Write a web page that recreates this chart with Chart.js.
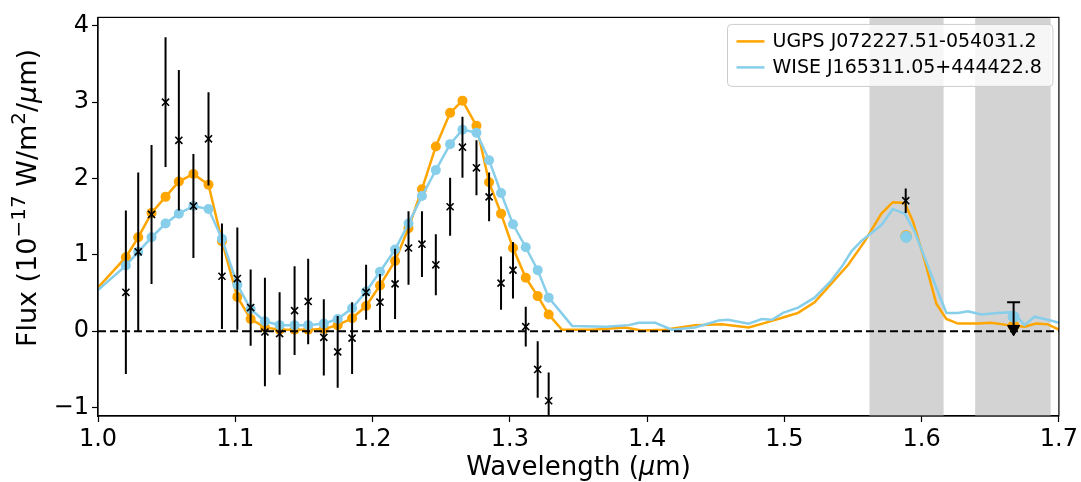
<!DOCTYPE html>
<html><head><meta charset="utf-8">
<script src="https://cdn.jsdelivr.net/npm/chart.js@4.4.0/dist/chart.umd.min.js"></script>
<style>html,body{margin:0;padding:0;background:#fff;}canvas{display:block;}</style>
</head><body>
<canvas id="c" width="1081" height="482"></canvas>
<script>
// ---------- data ----------
const obsWave = [1.0203,1.0293,1.0390,1.0492,1.0589,1.0695,1.0805,1.0903,1.1015,1.1112,1.1216,1.1323,1.1432,1.1531,1.1645,1.1746,1.1851,1.1953,1.2054,1.2164,1.2262,1.2360,1.2461,1.2565,1.2655,1.2757,1.2849,1.2936,1.3023,1.3116,1.3203,1.3283];
const obsFlux = [0.51,1.04,1.53,3.00,2.50,1.64,2.52,0.72,0.69,0.31,-0.01,-0.03,0.27,0.39,-0.08,-0.27,-0.09,0.51,0.38,0.62,1.09,1.14,0.87,1.63,2.41,2.14,1.76,0.63,0.80,0.06,-0.50,-0.91];
const obsErr  = [1.07,1.04,0.91,0.85,0.92,0.68,0.61,0.69,0.67,0.50,0.71,0.54,0.58,0.56,0.50,0.47,0.47,0.36,0.37,0.46,0.48,0.43,0.40,0.38,0.40,0.36,0.32,0.35,0.37,0.26,0.37,0.37];
const hWave = [1.5884];
const hFlux = [1.71];
const hErr  = [0.16];
const ulWave = [1.667];
const ulFlux = [0.03];
const ulTop  = [0.38];

const ugpsLabel = 'UGPS J072227.51-054031.2';
const wiseLabel = 'WISE J165311.05+444422.8';
const ugpsHeadWave = [1.0];
const ugpsHeadFlux = [0.57];
const wiseHeadWave = [1.0];
const wiseHeadFlux = [0.54];
const ugpsDots = [0.97,1.23,1.55,1.76,1.96,2.06,1.92,1.18,0.45,0.16,0.05,0.02,0.02,0.02,0.03,0.08,0.17,0.33,0.60,0.92,1.35,1.86,2.42,2.86,3.02,2.69,1.95,1.54,1.09,0.70,0.46,0.22];
const wiseDots = [0.86,1.04,1.23,1.41,1.54,1.64,1.60,1.21,0.61,0.29,0.13,0.08,0.08,0.08,0.10,0.16,0.30,0.52,0.78,1.07,1.41,1.77,2.11,2.45,2.64,2.60,2.24,1.81,1.40,1.10,0.80,0.44];
const ugpsTailWave = [1.338,1.360,1.384,1.396,1.413,1.435,1.4544,1.474,1.486,1.499,1.510,1.522,1.534,1.5465,1.5586,1.5707,1.579,1.5877,1.5938,1.6023,1.6107,1.618,1.6265,1.641,1.6507,1.6628,1.675,1.6834,1.692,1.700];
const ugpsTailFlux = [0.02,0.02,0.05,0.01,0.02,0.08,0.09,0.05,0.11,0.18,0.24,0.38,0.62,0.87,1.18,1.54,1.69,1.68,1.43,0.92,0.36,0.16,0.10,0.10,0.11,0.08,0.06,0.10,0.09,0.02];
const wiseTailWave = [1.3454,1.370,1.3866,1.394,1.406,1.418,1.435,1.452,1.459,1.474,1.4835,1.491,1.499,1.510,1.522,1.534,1.542,1.549,1.556,1.5622,1.5707,1.579,1.5877,1.595,1.6023,1.6107,1.618,1.6265,1.6337,1.6434,1.6555,1.6664,1.675,1.6822,1.694,1.700];
const wiseTailFlux = [0.07,0.06,0.08,0.11,0.11,0.02,0.05,0.14,0.15,0.10,0.16,0.15,0.24,0.31,0.44,0.66,0.85,1.05,1.18,1.27,1.39,1.60,1.54,1.30,0.96,0.57,0.24,0.24,0.26,0.22,0.24,0.25,0.08,0.19,0.14,0.11];
const photWave = [1.5887,1.667];
const ugpsPhot = [1.245,0.07];
const wisePhot = [1.235,0.19];
const zeroWave = [1.0,1.7];
const zeroFlux = [0,0];
const bandStart = [1.562,1.639];
const bandEnd   = [1.616,1.694];
const xTicks = [1.0,1.1,1.2,1.3,1.4,1.5,1.6,1.7];
const yTicks = [-1,0,1,2,3,4];

// ---------- build ----------
const pts = (xs, ys) => xs.map((v,i)=>({x:v,y:ys[i]}));
const ORANGE = '#FFA500', SKY = '#87CEEB';
const ugpsLine = pts(ugpsHeadWave,ugpsHeadFlux).concat(pts(obsWave,ugpsDots), pts(ugpsTailWave,ugpsTailFlux));
const wiseLine = pts(wiseHeadWave,wiseHeadFlux).concat(pts(obsWave,wiseDots), pts(wiseTailWave,wiseTailFlux));
const nHead = 1, nDots = obsWave.length;
const dotR = c => (c.dataIndex >= nHead && c.dataIndex < nHead+nDots) ? 5 : 0;
const FONT = 'DejaVu Sans';

function drawRuns(ctx, runs, size, supScale){
  const fontOf = r => (r[1]==='i' ? 'italic ' : '') + (r[1]==='s' ? size*supScale : size) + 'px "' + FONT + '"';
  let total = 0;
  runs.forEach(r=>{ ctx.font = fontOf(r); total += ctx.measureText(r[0]).width; });
  let x = -total/2;
  ctx.textBaseline = 'alphabetic'; ctx.textAlign = 'left'; ctx.fillStyle = '#000';
  runs.forEach(r=>{
    ctx.font = fontOf(r);
    ctx.fillText(r[0], x, r[1]==='s' ? -size*0.42 : 0);
    x += ctx.measureText(r[0]).width;
  });
}

const custom = {
  id:'custom',
  beforeDatasetsDraw(chart){
    const {ctx, chartArea:a, scales:{x}} = chart;
    ctx.save();
    ctx.fillStyle = '#d3d3d3';
    bandStart.forEach((s,i)=>{
      const x0 = x.getPixelForValue(s), x1 = x.getPixelForValue(bandEnd[i]);
      ctx.fillRect(x0, a.top, x1-x0, a.bottom-a.top);
    });
    ctx.restore();
  },
  afterDatasetsDraw(chart){
    const {ctx, chartArea:a, scales:{x,y}} = chart;
    ctx.save();
    ctx.beginPath(); ctx.rect(a.left,a.top,a.right-a.left,a.bottom-a.top); ctx.clip();
    ctx.strokeStyle = '#000'; ctx.lineWidth = 2;
    const bar = (w,f,e)=>{
      const px = x.getPixelForValue(w);
      ctx.beginPath();
      ctx.moveTo(px, y.getPixelForValue(f-e));
      ctx.lineTo(px, y.getPixelForValue(f+e));
      ctx.stroke();
    };
    obsWave.forEach((w,i)=>bar(w,obsFlux[i],obsErr[i]));
    hWave.forEach((w,i)=>bar(w,hFlux[i],hErr[i]));
    ulWave.forEach((w,i)=>{
      const px = x.getPixelForValue(w);
      const py0 = y.getPixelForValue(ulFlux[i]), py1 = y.getPixelForValue(ulTop[i]);
      ctx.beginPath(); ctx.moveTo(px,py0); ctx.lineTo(px,py1);
      ctx.moveTo(px-6.5,py1); ctx.lineTo(px+6.5,py1); ctx.stroke();
    });
    ctx.restore();
  },
  afterDraw(chart){
    const {ctx, chartArea:a} = chart;
    ctx.save();
    ctx.strokeStyle = '#000'; ctx.lineWidth = 1.2;
    ctx.strokeRect(a.left, a.top, a.right-a.left, a.bottom-a.top);
    // axis titles
    ctx.save();
    ctx.translate((a.left+a.right)/2, 475);
    drawRuns(ctx, [['Wavelength (','n'],['\u03bc','i'],['m)','n']], 26, 0.7);
    ctx.restore();
    ctx.save();
    ctx.translate(36, 198);
    ctx.rotate(-Math.PI/2);
    drawRuns(ctx, [['Flux (10','n'],['\u221217','s'],[' W/m','n'],['2','s'],['/','n'],['\u03bc','i'],['m)','n']], 27, 0.74);
    ctx.restore();
    // legend
    ctx.font = '19px "' + FONT + '"';
    const labels = [[ugpsLabel,ORANGE],[wiseLabel,SKY]];
    const tw = Math.max(...labels.map(l=>ctx.measureText(l[0]).width));
    const boxW = tw + 56, boxH = 62;
    const bx = a.right - 6 - boxW, by = a.top + 7;
    ctx.fillStyle = 'rgba(255,255,255,0.8)';
    ctx.strokeStyle = '#cccccc'; ctx.lineWidth = 1;
    ctx.beginPath();
    if (ctx.roundRect) ctx.roundRect(bx,by,boxW,boxH,4); else ctx.rect(bx,by,boxW,boxH);
    ctx.fill(); ctx.stroke();
    labels.forEach((l,i)=>{
      const cy = by + 17 + i*26;
      ctx.strokeStyle = l[1]; ctx.lineWidth = 2.5;
      ctx.beginPath(); ctx.moveTo(bx+9,cy); ctx.lineTo(bx+37,cy); ctx.stroke();
      ctx.fillStyle = '#000'; ctx.textBaseline = 'middle'; ctx.textAlign='left';
      ctx.fillText(l[0], bx+45, cy+1);
    });
    ctx.restore();
  }
};

new Chart(document.getElementById('c'), {
  type:'line',
  data:{datasets:[
    {label:'obs', data:pts(obsWave,obsFlux).concat(pts(hWave,hFlux)), showLine:false, pointStyle:'crossRot', pointRadius:5, borderColor:'#000', borderWidth:1.6, order:0},
    {label:'ul', data:pts(ulWave,ulFlux), showLine:false, pointStyle:'triangle', rotation:180, pointRadius:7, backgroundColor:'#000', borderColor:'#000', borderWidth:1, order:1},
    {label:'zero', data:pts(zeroWave,zeroFlux), borderColor:'#000', borderWidth:1.8, borderDash:[8,4], pointRadius:0, order:2},
    {label:'wisePhot', data:pts(photWave,wisePhot), showLine:false, pointRadius:5.5, backgroundColor:SKY, borderColor:SKY, order:3},
    {label:wiseLabel, data:wiseLine, borderColor:SKY, backgroundColor:SKY, borderWidth:2.5, pointRadius:dotR, pointBorderWidth:0, tension:0, order:4},
    {label:'ugpsPhot', data:pts(photWave,ugpsPhot), showLine:false, pointRadius:5.5, backgroundColor:ORANGE, borderColor:ORANGE, order:5},
    {label:ugpsLabel, data:ugpsLine, borderColor:ORANGE, backgroundColor:ORANGE, borderWidth:2.5, pointRadius:dotR, pointBorderWidth:0, tension:0, order:6}
  ]},
  options:{
    responsive:false, animation:false, events:[],
    layout:{padding:{left:0,right:18,top:13,bottom:0}},
    plugins:{legend:{display:false}, tooltip:{enabled:false}},
    scales:{
      x:{type:'linear', min:1.0, max:1.7,
         afterBuildTicks:s=>{s.ticks = xTicks.map(v=>({value:v}));},
         afterFit:s=>{s.height = 66;},
         ticks:{callback:v=>Number(v).toFixed(1), font:{family:FONT,size:24}, color:'#000', padding:3, maxRotation:0, autoSkip:false},
         grid:{drawOnChartArea:false, drawTicks:true, tickLength:6, color:'#000', tickWidth:1.2},
         border:{display:true, color:'#000', width:1.2},
         title:{display:false}},
      y:{type:'linear', min:-1.11, max:4.11,
         afterBuildTicks:s=>{s.ticks = yTicks.map(v=>({value:v}));},
         afterFit:s=>{s.width = 98;},
         ticks:{callback:v=> v<0 ? '\u2212'+Math.abs(v) : String(v), font:{family:FONT,size:24}, color:'#000', padding:3, autoSkip:false},
         grid:{drawOnChartArea:false, drawTicks:true, tickLength:6, color:'#000', tickWidth:1.2},
         border:{display:true, color:'#000', width:1.2},
         title:{display:false}}
    }
  },
  plugins:[custom]
});
</script>
</body></html>
